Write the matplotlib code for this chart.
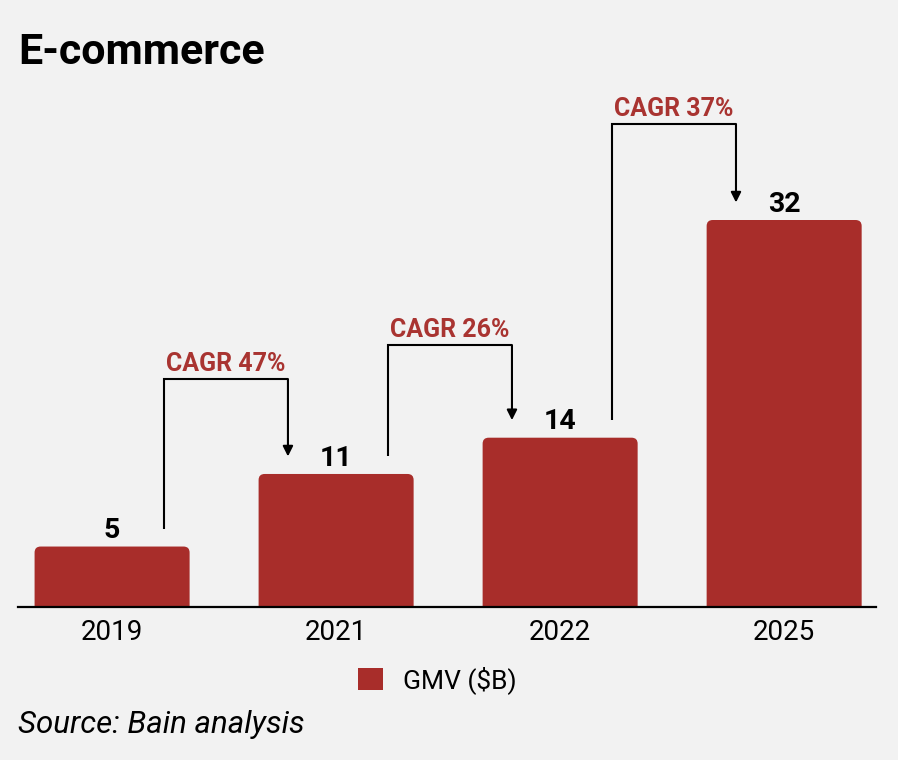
import matplotlib

matplotlib.use("Agg")
import matplotlib.pyplot as plt
from matplotlib.patches import FancyBboxPatch, Patch

bg = "#F2F2F2"
red = "#A82D2A"
cagr_red = "#A93431"

years = ["2019", "2021", "2022", "2025"]
gmv = [5, 11, 14, 32]
cagr_labels = ["CAGR 47%", "CAGR 26%", "CAGR 37%"]

plt.rcParams["font.family"] = ["Roboto", "DejaVu Sans"]

fig = plt.figure(figsize=(8.98, 7.6), dpi=100)
fig.patch.set_facecolor(bg)

ax = fig.add_axes([18 / 898, 153 / 760, 858 / 898, 517 / 760])
ax.set_facecolor("none")
ax.set_xlim(-0.42, 3.41)
ax.set_ylim(0, 42.75)

# bars with rounded top corners (bottom corners hidden below the axis)
width = 0.692
r = 0.027
for i, v in enumerate(gmv):
    bar = FancyBboxPatch((i - width / 2, -2), width, v + 2,
                         boxstyle=f"round,pad=0,rounding_size={r}",
                         mutation_aspect=18.5, facecolor=red, edgecolor="none",
                         zorder=2)
    ax.add_patch(bar)
    ax.annotate(str(v), xy=(i, v), xytext=(0, 6), textcoords="offset points",
                ha="center", va="baseline", fontsize=20.5, fontweight="bold",
                color="black")

# CAGR brackets
bracket_tops = [18.85, 21.66, 39.94]
for i in range(len(years) - 1):
    x0 = i + 0.23
    x1 = i + 1 - 0.215
    y0 = gmv[i] + 1.45
    y1 = gmv[i + 1] + 1.45
    yt = bracket_tops[i]
    ax.plot([x0, x0, x1], [y0, yt, yt], color="black", lw=1.5,
            solid_joinstyle="miter", solid_capstyle="butt", zorder=3)
    ax.annotate("", xy=(x1, y1), xytext=(x1, yt),
                arrowprops=dict(arrowstyle="-|>,head_length=0.6,head_width=0.3",
                                color="black", lw=1.5, shrinkA=0, shrinkB=0))
    ax.annotate(cagr_labels[i], xy=((x0 + x1) / 2, yt), xytext=(0, 6),
                textcoords="offset points", ha="center", va="baseline",
                fontsize=18, fontweight="bold", color=cagr_red)

for s in ["top", "right", "left"]:
    ax.spines[s].set_visible(False)
ax.spines["bottom"].set_linewidth(1.6)
ax.spines["bottom"].set_color("black")
ax.set_yticks([])
ax.set_xticks(range(len(years)))
ax.set_xticklabels(years)
ax.tick_params(axis="x", length=0, pad=9, labelsize=20, colors="black")

fig.legend(handles=[Patch(facecolor=red, edgecolor="none", label="GMV ($B)")],
           loc="center", bbox_to_anchor=(437 / 898, 1 - 680 / 760), frameon=False,
           fontsize=19, handlelength=0.95, handleheight=0.95, handletextpad=0.75)

fig.text(18 / 898, 1 - 64 / 760, "E-commerce", fontsize=31, fontweight="bold",
         va="baseline", ha="left", color="black")
fig.text(18 / 898, 1 - 733 / 760, "Source: Bain analysis", fontsize=22.5,
         fontstyle="italic", va="baseline", ha="left", color="black")

plt.savefig("out.png", dpi=100, facecolor=bg)
